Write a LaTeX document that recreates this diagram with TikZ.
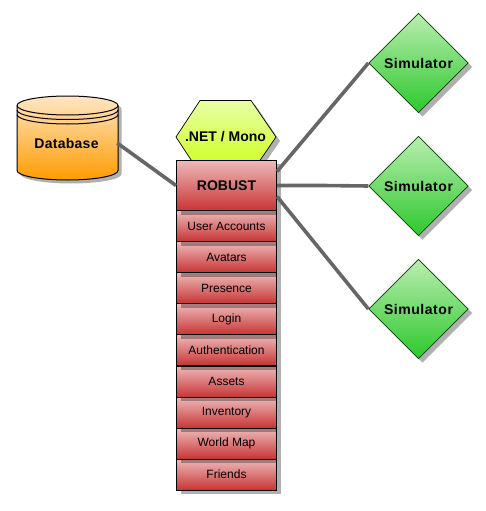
\documentclass[tikz,border=0pt]{standalone}
\usepackage{fontspec}
\setmainfont{Liberation Sans}
\usetikzlibrary{shapes.geometric,shadows,calc}
\newfontface\boldspaced[LetterSpace=3.9]{Liberation Sans Bold}
\newfontface\boldlight[LetterSpace=2]{Liberation Sans Bold}
\definecolor{linkgray}{HTML}{666666}
\definecolor{redtop}{HTML}{EEBABA}
\definecolor{redbot}{HTML}{C83434}
\definecolor{greentop}{HTML}{BAEEB0}
\definecolor{greenbot}{HTML}{2CC82C}
\definecolor{hextop}{HTML}{E8FFA6}
\definecolor{hexbot}{HTML}{CCFF14}
\definecolor{dbtop}{HTML}{FFE6C4}
\definecolor{dbbot}{HTML}{FF9C00}
\tikzset{
  softshadow/.style={general shadow={fill=black,fill opacity=.31,shadow xshift=#1,shadow yshift=-#1}},
  softshadow/.default=4pt,
  redbox/.style={rectangle,draw=black,line width=1pt,inner sep=0pt,minimum width=100pt,softshadow,
    top color=redtop,bottom color=redbot},
  subbox/.style={redbox,minimum height=31pt,font=\fontsize{12}{14}\selectfont},
  mainbox/.style={redbox,minimum height=50.5pt,font=\fontsize{14}{16}\selectfont\bfseries},
  simbox/.style={diamond,aspect=1,draw=black!75!green,line width=.7pt,inner sep=0pt,minimum width=99.5pt,minimum height=99.5pt,
    softshadow,top color=greentop,bottom color=greenbot,font=\fontsize{14}{16}\boldspaced},
  dbshape/.style={draw=black,line width=1pt},
  link/.style={draw=linkgray,line width=3.6pt},
  textlabel/.style={inner sep=0pt,font=\fontsize{14}{16}\selectfont\bfseries},
}
\begin{document}
\begin{tikzpicture}[x=1pt,y=-1pt]
\useasboundingbox (0,0) rectangle (485,511);
% database
\path[dbshape,softshadow=3.5pt,top color=dbtop,bottom color=dbbot]
  (17,105.5) arc[start angle=180,end angle=360,x radius=50.5,y radius=9.5] -- (118,170.5)
  arc[start angle=0,end angle=180,x radius=50.5,y radius=9.5] -- cycle;
\draw[line width=1pt] (17,105.5) arc[start angle=180,end angle=0,x radius=50.5,y radius=9.5];
\draw[line width=1pt] (17,110) arc[start angle=180,end angle=0,x radius=50.5,y radius=9.5];
\draw[line width=1pt] (17,114.5) arc[start angle=180,end angle=0,x radius=50.5,y radius=9.5];
\node[minimum width=101pt,minimum height=40pt,inner sep=0pt,font=\fontsize{14}{16}\boldlight] (db) at (66.5,143) {Database};
% hexagon
\path[draw=black,line width=.7pt,softshadow,top color=hextop,bottom color=hexbot]
  (176,137) -- (200,100.5) -- (251,100.5) -- (276,137) -- (251,173.5) -- (200,173.5) -- cycle;
\node[textlabel] (net) at (225.5,137) {.NET / Mono};
% stack, drawn from the bottom up so each shadow falls on the box below
\node[subbox] (friends) at (226.5,474.5) {Friends};
\node[subbox] (map) at (226.5,443.5) {World Map};
\node[subbox] (inv) at (226.5,412.5) {Inventory};
\node[subbox] (assets) at (226.5,381.5) {Assets};
\node[subbox] (auth) at (226.5,350) {Authentication};
\node[subbox] (login) at (226.5,319) {Login};
\node[subbox] (pres) at (226.5,288) {Presence};
\node[subbox] (avatars) at (226.5,257) {Avatars};
\node[subbox] (users) at (226.5,226) {User Accounts};
\node[mainbox] (robust) at (226.5,185.5) {ROBUST};
% simulators
\node[simbox] (sim1) at (418.5,63) {Simulator};
\node[simbox] (sim2) at (418.5,186) {Simulator};
\node[simbox] (sim3) at (418.5,309) {Simulator};
% connectors
\coordinate (rup) at ($(robust.east)+(0,-14)$);
\coordinate (rdown) at ($(robust.east)+(0,11)$);
\coordinate (bend) at ($(robust.east)+(46,0)$);
\draw[link] (db.east) -- (robust.west);
\draw[link] (rup) -- (sim1.west);
\draw[link] (robust.east) -- (bend) -- (sim2.west);
\draw[link] (rdown) -- (sim3.west);
\end{tikzpicture}
\end{document}
